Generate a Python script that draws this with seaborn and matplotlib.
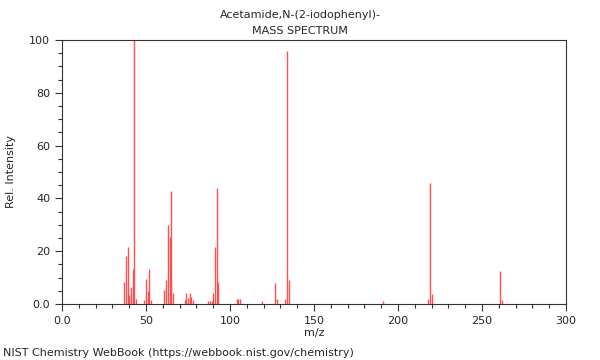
import numpy as np
import pandas as pd
import matplotlib
matplotlib.use("Agg")
import matplotlib.pyplot as plt
from matplotlib.ticker import MultipleLocator, FuncFormatter
import seaborn as sns

# m/z peaks and relative intensities
mz = [37, 38, 39, 40, 41, 42, 43, 44, 49, 50, 51, 52, 53,
      61, 62, 63, 64, 65, 66, 73, 74, 75, 76, 77, 78,
      87, 88, 89, 90, 91, 92, 93, 104, 105, 106, 119,
      127, 128, 133, 134, 135, 191, 218, 219, 220, 261, 262]
intensity = [8.3, 18.0, 21.6, 3.4, 6.6, 13.3, 100.0, 2.0, 1.5, 9.3, 5.0, 13.3, 1.5,
             5.2, 9.2, 30.0, 25.4, 42.8, 4.0, 1.5, 4.0, 2.3, 4.0, 2.7, 1.5,
             1.2, 1.2, 1.2, 4.0, 21.5, 43.8, 8.5, 1.8, 1.8, 1.8, 1.0,
             7.8, 1.8, 1.8, 96.0, 9.0, 1.0, 1.9, 45.7, 3.7, 12.5, 1.5]

spec = pd.DataFrame({"mz": mz, "rel": intensity})

sns.set_style("ticks")
plt.rcParams['font.family'] = ['DejaVu Sans']

fig = plt.figure(figsize=(6, 3.6), dpi=100)
ax = fig.add_axes([0.1033, 0.1556, 0.84, 0.7333])

ax.vlines(spec["mz"], 0, spec["rel"], color="#ff3333", linewidth=1.0, alpha=0.85)

ax.set_xlim(0, 300)
ax.set_ylim(0, 100)
ax.xaxis.set_major_locator(MultipleLocator(50))
ax.xaxis.set_minor_locator(MultipleLocator(10))
ax.yaxis.set_major_locator(MultipleLocator(20))
ax.yaxis.set_minor_locator(MultipleLocator(5))
fmt = FuncFormatter(lambda v, p: "0.0" if v == 0 else "%d" % v)
ax.xaxis.set_major_formatter(fmt)
ax.yaxis.set_major_formatter(fmt)
ax.tick_params(axis="both", which="major", length=5, width=0.8, labelsize=8, color="#333333")
ax.tick_params(axis="both", which="minor", length=3, width=0.8, color="#333333")

for s in ax.spines.values():
    s.set_visible(True)
    s.set_linewidth(0.8)
    s.set_color("#333333")

ax.set_xlabel("m/z", fontsize=8)
ax.set_ylabel("Rel. Intensity", fontsize=8)
ax.yaxis.set_label_coords(-0.092, 0.5)
ax.xaxis.set_label_coords(0.5, -0.09)

fig.text(0.5, 0.958, "Acetamide,N-(2-iodophenyl)-", ha="center", va="center", fontsize=8)
fig.text(0.5, 0.915, "MASS SPECTRUM", ha="center", va="center", fontsize=8)
fig.text(0.005, 0.02, "NIST Chemistry WebBook (https://webbook.nist.gov/chemistry)",
         ha="left", va="center", fontsize=8)

fig.savefig("out.png", dpi=100)
